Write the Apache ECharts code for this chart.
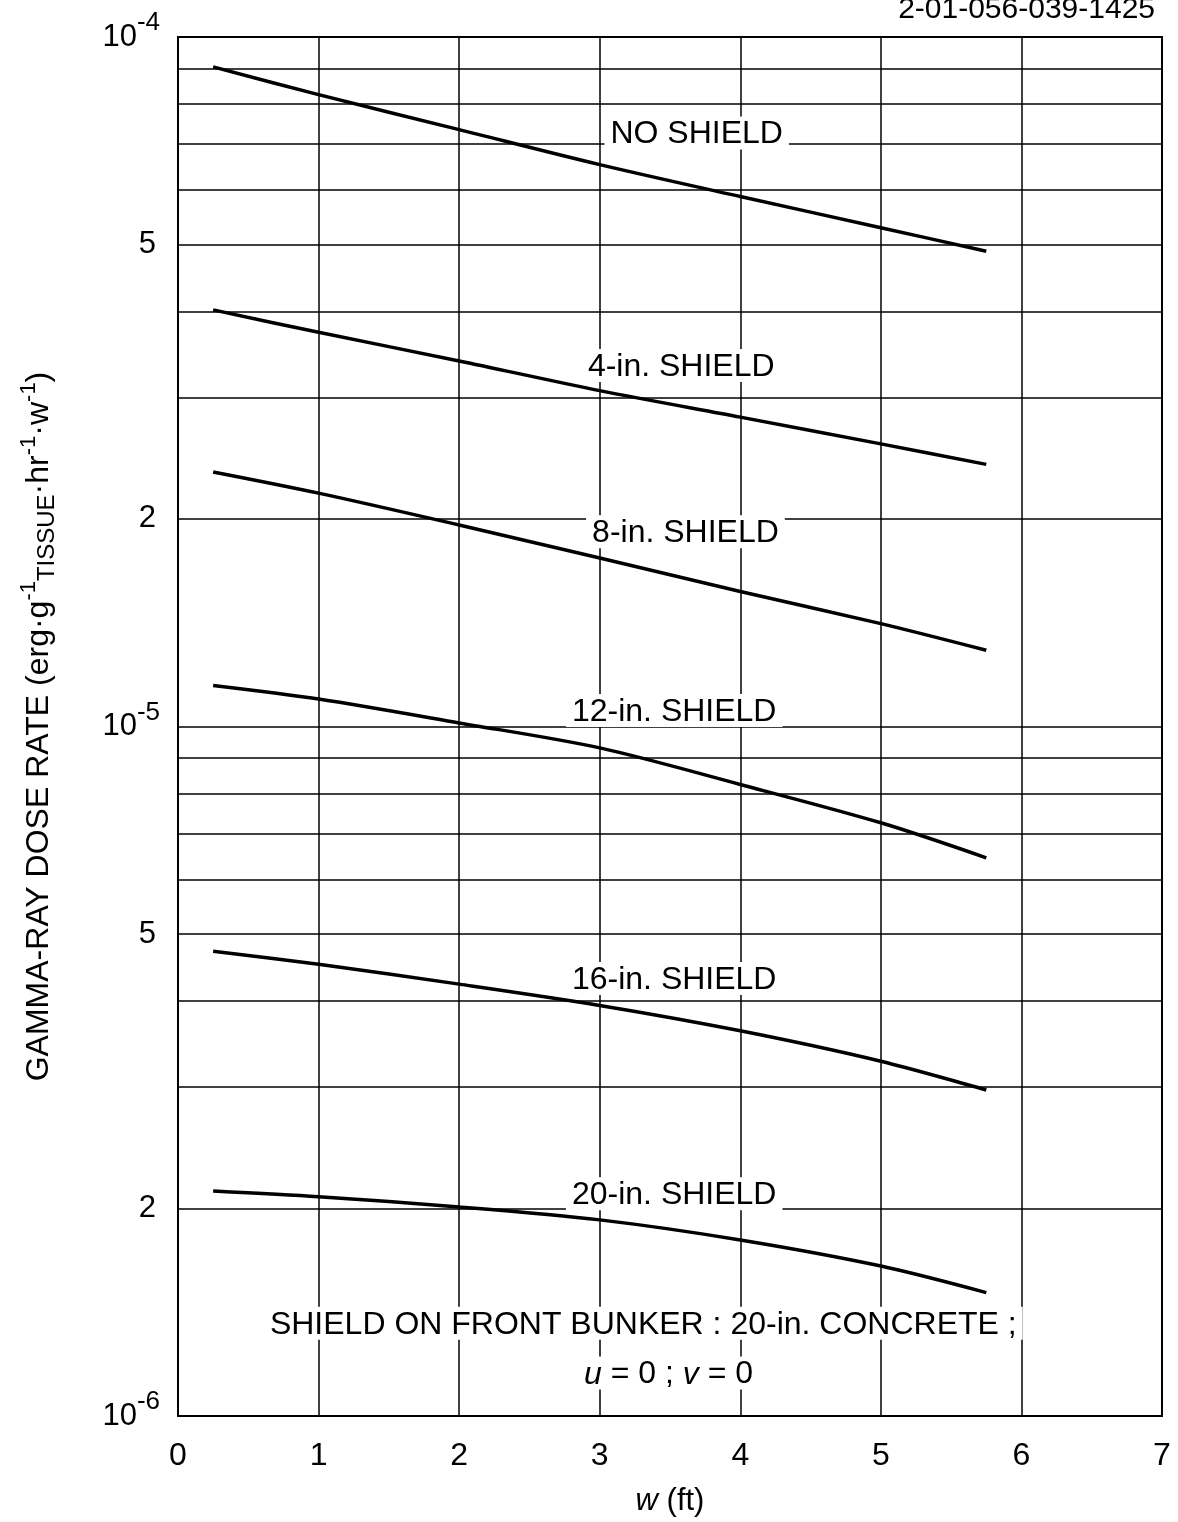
<!DOCTYPE html>
<html>
<head>
<meta charset="utf-8">
<script src="https://cdn.jsdelivr.net/npm/echarts@6/dist/echarts.min.js"></script>
<style>
html,body{margin:0;padding:0;background:#fff;}
#chart{width:1178px;height:1522px;}
</style>
</head>
<body>
<div id="chart"></div>
<script>
// ---- data ----
var xValues = [0.25, 1, 2, 3, 4, 5, 5.75];
var noShield = [9.05e-5, 8.25e-5, 7.34e-5, 6.53e-5, 5.87e-5, 5.29e-5, 4.89e-5];
var shield4 = [4.02e-5, 3.73e-5, 3.39e-5, 3.07e-5, 2.81e-5, 2.57e-5, 2.40e-5];
var shield8 = [2.34e-5, 2.18e-5, 1.96e-5, 1.755e-5, 1.57e-5, 1.41e-5, 1.29e-5];
var shield12 = [1.147e-5, 1.096e-5, 1.012e-5, 9.31e-6, 8.24e-6, 7.25e-6, 6.45e-6];
var shield16 = [4.72e-6, 4.52e-6, 4.23e-6, 3.94e-6, 3.62e-6, 3.27e-6, 2.97e-6];
var shield20 = [2.12e-6, 2.08e-6, 2.01e-6, 1.925e-6, 1.80e-6, 1.65e-6, 1.51e-6];

var minorGridValues = [2e-6,3e-6,4e-6,5e-6,6e-6,7e-6,8e-6,9e-6,2e-5,3e-5,4e-5,5e-5,6e-5,7e-5,8e-5,9e-5];
var minorGridLabels = ['2','','','5','','','','','2','','','5','','','',''];

var annoText = ['NO SHIELD', '4-in. SHIELD', '8-in. SHIELD', '12-in. SHIELD', '16-in. SHIELD', '20-in. SHIELD',
                'SHIELD ON FRONT BUNKER : 20-in. CONCRETE ;', '{i|u} = 0 ; {i|v} = 0'];
var annoX = [3.69, 3.58, 3.61, 3.53, 3.53, 3.53, 3.31, 3.49];
var annoY = [7.26e-5, 3.34e-5, 1.917e-5, 1.055e-5, 4.31e-6, 2.10e-6, 1.363e-6, 1.154e-6];

var FONT = 'Liberation Sans';

function pairs(ys) { return xValues.map(function (x, i) { return [x, ys[i]]; }); }

function curve(name, ys) {
  return {
    name: name, type: 'line', data: pairs(ys), showSymbol: false, smooth: 0.3,
    lineStyle: { color: '#000', width: 3.5 }, z: 5, silent: true
  };
}

var series = [
  curve('NO SHIELD', noShield),
  curve('4-in. SHIELD', shield4),
  curve('8-in. SHIELD', shield8),
  curve('12-in. SHIELD', shield12),
  curve('16-in. SHIELD', shield16),
  curve('20-in. SHIELD', shield20)
];

// minor horizontal grid lines (mantissas 2..9) with the "5" and "2" tick labels
series[0].markLine = {
  silent: true, symbol: ['none', 'none'], animation: false, precision: 10,
  lineStyle: { color: '#000', width: 1.5, type: 'solid' },
  emphasis: { disabled: true },
  data: minorGridValues.map(function (v, i) {
    return {
      yAxis: v,
      label: {
        show: minorGridLabels[i] !== '', position: 'start', distance: 22,
        formatter: minorGridLabels[i], fontFamily: FONT, fontSize: 31, color: '#000'
      }
    };
  })
};

series.push({
  name: 'annotations', type: 'scatter', z: 10, silent: true, symbolSize: 1,
  itemStyle: { color: 'transparent', opacity: 1 },
  data: annoText.map(function (t, i) { return { value: [annoX[i], annoY[i]], name: t }; }),
  label: {
    show: true, position: 'inside', color: '#000', fontFamily: FONT, fontSize: 32, lineHeight: 30,
    textBorderWidth: 0, opacity: 1,
    backgroundColor: '#fff', padding: [3, 6, 0, 6],
    formatter: function (p) { return p.name; },
    rich: { i: { fontFamily: FONT, fontSize: 32, lineHeight: 30, fontStyle: 'italic', color: '#000' } }
  }
});

var chart = echarts.init(document.getElementById('chart'), null, { renderer: 'canvas' });

var option = {
  backgroundColor: '#fff',
  animation: false,
  title: {
    text: '2-01-056-039-1425', right: 18, top: -10,
    textStyle: { fontFamily: FONT, fontSize: 30, fontWeight: 'normal', color: '#000' }
  },
  grid: { left: 178, right: 16, top: 37, bottom: 102, show: true, borderColor: '#000', borderWidth: 2, backgroundColor: 'transparent' },
  xAxis: {
    type: 'value', min: 0, max: 7, interval: 1,
    axisLine: { show: true, lineStyle: { color: '#000', width: 2 } },
    axisTick: { show: false },
    splitLine: { show: true, lineStyle: { color: '#000', width: 1.5 } },
    axisLabel: { fontFamily: FONT, fontSize: 32, color: '#000', margin: 24 },
    name: '{i|w} (ft)', nameLocation: 'middle', nameGap: 70,
    nameTextStyle: {
      fontFamily: FONT, fontSize: 31, color: '#000',
      rich: { i: { fontFamily: FONT, fontSize: 31, fontStyle: 'italic', color: '#000' } }
    }
  },
  yAxis: {
    type: 'log', logBase: 10, min: 1e-6, max: 1e-4, interval: 1,
    axisLine: { show: true, lineStyle: { color: '#000', width: 2 } },
    axisTick: { show: false },
    splitLine: { show: true, lineStyle: { color: '#000', width: 1.5 } },
    axisLabel: {
      margin: 18,
      formatter: function (v) {
        var e = Math.round(Math.log10(v));
        return '{b|10}{s|' + e + '}';
      },
      rich: {
        b: { fontFamily: FONT, fontSize: 31, color: '#000' },
        s: { fontFamily: FONT, fontSize: 26, color: '#000', padding: [0, 0, 28, 0] }
      }
    },
    name: 'GAMMA-RAY DOSE RATE (erg{m|·}g{s|-1}{u|TISSUE}{m|·}hr{s|-1}{m|·}w{s|-1})',
    nameLocation: 'middle', nameGap: 118,
    nameTextStyle: {
      fontFamily: FONT, fontSize: 32, color: '#000',
      rich: {
        m: { fontFamily: FONT, fontSize: 32, color: '#000' },
        s: { fontFamily: FONT, fontSize: 22, color: '#000', padding: [0, 0, 20, 0] },
        u: { fontFamily: FONT, fontSize: 24, color: '#000', padding: [16, 0, 0, 0] }
      }
    }
  },
  series: series
};
chart.setOption(option);
</script>
</body>
</html>
